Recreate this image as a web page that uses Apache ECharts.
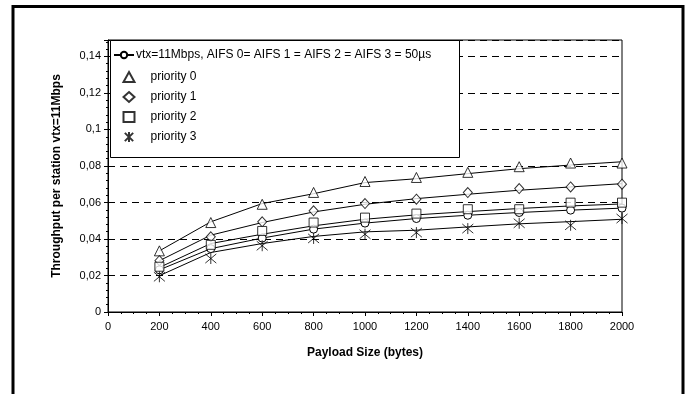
<!DOCTYPE html>
<html>
<head>
<meta charset="utf-8">
<script src="https://cdn.jsdelivr.net/npm/echarts@6/dist/echarts.min.js"></script>
<style>
html,body{margin:0;padding:0;background:#fff;}
#c{width:690px;height:394px;}
</style>
</head>
<body>
<div id="c"></div>
<script>
// ---- data ----
var payload = [200, 400, 600, 800, 1000, 1200, 1400, 1600, 1800, 2000];
var yTicks = [0, 0.02, 0.04, 0.06, 0.08, 0.1, 0.12, 0.14];
// analytical curves
var lineEqual = [0.0231, 0.0347, 0.0405, 0.0454, 0.0487, 0.0512, 0.0530, 0.0545, 0.0558, 0.0569];
var lineP0 = [0.0335, 0.0494, 0.0594, 0.0648, 0.0709, 0.0730, 0.0758, 0.0785, 0.0805, 0.0823];
var lineP1 = [0.0281, 0.0421, 0.0490, 0.0548, 0.0590, 0.0621, 0.0645, 0.0667, 0.0685, 0.0703];
var lineP2 = [0.0244, 0.0375, 0.0426, 0.0472, 0.0508, 0.0532, 0.0550, 0.0567, 0.0581, 0.0592];
var lineP3 = [0.0199, 0.0326, 0.0375, 0.0414, 0.0439, 0.0448, 0.0466, 0.0483, 0.0495, 0.0508];
// simulation points
var simP0 = [0.0335, 0.0490, 0.0590, 0.0655, 0.0715, 0.0737, 0.0765, 0.0796, 0.0816, 0.0816];
var simP1 = [0.0281, 0.0412, 0.0494, 0.0554, 0.0594, 0.0618, 0.0654, 0.0676, 0.0685, 0.0700];
var simP2 = [0.0248, 0.0368, 0.0444, 0.0490, 0.0517, 0.0539, 0.0563, 0.0563, 0.0599, 0.0599];
var simP3 = [0.0193, 0.0293, 0.0363, 0.0403, 0.0426, 0.0435, 0.0457, 0.0486, 0.0475, 0.0512];
var names = ['vtx=11Mbps, AIFS 0= AIFS 1 = AIFS 2 = AIFS 3 = 50\u00b5s', 'priority 0', 'priority 1', 'priority 2', 'priority 3'];
var xTitle = 'Payload Size (bytes)';
var yTitle = 'Throughput per station vtx=11Mbps';

function pairs(ys){ return payload.map(function(x,i){ return [x, ys[i]]; }); }
var FONT = 'Liberation Sans, Arial, sans-serif';
var star = 'path://M0,0 L10,10 M10,0 L0,10 M5,-1 L5,11';

function lineS(name, ys, withSym){
  return {
    name: name, type: 'line', data: pairs(ys),
    symbol: withSym ? 'circle' : 'none', symbolSize: 8, showSymbol: !!withSym,
    lineStyle: {color: '#000', width: 1},
    itemStyle: {color: '#fff', borderColor: '#000', borderWidth: 1},
    silent: true, z: 3
  };
}
function scat(name, ys, sym, size){
  return {
    name: name, type: 'scatter', data: pairs(ys), symbol: sym, symbolSize: size,
    itemStyle: {color: sym === star ? '#000' : '#fff', borderColor: '#000', borderWidth: 1},
    silent: true, z: 4
  };
}

var chart = echarts.init(document.getElementById('c'));
chart.setOption({
  animation: false,
  backgroundColor: '#fff',
  textStyle: {fontFamily: FONT, color: '#000'},
  grid: {left: 108, right: 68, top: 40, bottom: 82, show: true, borderColor: '#000', borderWidth: 1, backgroundColor: 'transparent'},
  graphic: [
    {type: 'rect', shape: {x: 13, y: 6.5, width: 670, height: 400}, style: {fill: 'none', stroke: '#000', lineWidth: 3}, silent: true, z: 10},
    {type: 'rect', shape: {x: 110.5, y: 40.5, width: 349, height: 117}, style: {fill: '#fff', stroke: '#000', lineWidth: 1}, silent: true, z: 5}
  ],
  legend: [
    {data: [names[0]], left: 108, top: 44, orient: 'vertical', itemWidth: 20, itemHeight: 8, z: 6,
     textStyle: {fontFamily: FONT, fontSize: 12, color: '#000', padding: [0,0,0,-3]}},
    {data: names.slice(1), left: 117.5, top: 66, orient: 'vertical', itemWidth: 11, itemHeight: 10, itemGap: 8, z: 6,
     textStyle: {fontFamily: FONT, fontSize: 12, color: '#000', padding: [0,0,0,11]}}
  ],
  xAxis: {
    type: 'value', min: 0, max: 2000, interval: 200,
    name: xTitle, nameLocation: 'middle', nameGap: 35,
    nameTextStyle: {fontFamily: FONT, fontSize: 12, fontWeight: 'bold', color: '#000'},
    axisLine: {lineStyle: {color: '#000', width: 1}},
    axisTick: {show: true, length: 4, lineStyle: {color: '#000'}},
    minorTick: {show: true, splitNumber: 4, length: 2, lineStyle: {color: '#000'}},
    axisLabel: {fontFamily: FONT, fontSize: 11, color: '#000', margin: 9,
      formatter: function(v){ return String(Math.round(v)); }},
    splitLine: {show: false}
  },
  yAxis: {
    type: 'value', min: 0, max: 0.149, interval: 0.02,
    name: yTitle, nameLocation: 'middle', nameGap: 45,
    nameTextStyle: {fontFamily: FONT, fontSize: 12, fontWeight: 'bold', color: '#000'},
    axisLine: {show: true, lineStyle: {color: '#000', width: 1}},
    axisTick: {show: true, length: 4, lineStyle: {color: '#000'}},
    minorTick: {show: true, splitNumber: 5, length: 2, lineStyle: {color: '#000'}},
    axisLabel: {fontFamily: FONT, fontSize: 11, color: '#000', margin: 7, showMaxLabel: false,
      formatter: function(v){
        var r = Math.round(v*100)/100;
        if (v > 0.141) return '';
        return yTicks.indexOf(r) >= 0 ? String(r).replace('.', ',') : '';
      }},
    splitLine: {show: true, lineStyle: {color: '#000', type: [7, 5], width: 1}}
  },
  series: [
    lineS(names[0], lineEqual, true),
    lineS('p0 line', lineP0, false),
    lineS('p1 line', lineP1, false),
    lineS('p2 line', lineP2, false),
    lineS('p3 line', lineP3, false),
    scat(names[1], simP0, 'triangle', 10),
    scat(names[2], simP1, 'diamond', [9, 10]),
    scat(names[3], simP2, 'rect', 9),
    scat(names[4], simP3, star, 11)
  ]
});
</script>
</body>
</html>
